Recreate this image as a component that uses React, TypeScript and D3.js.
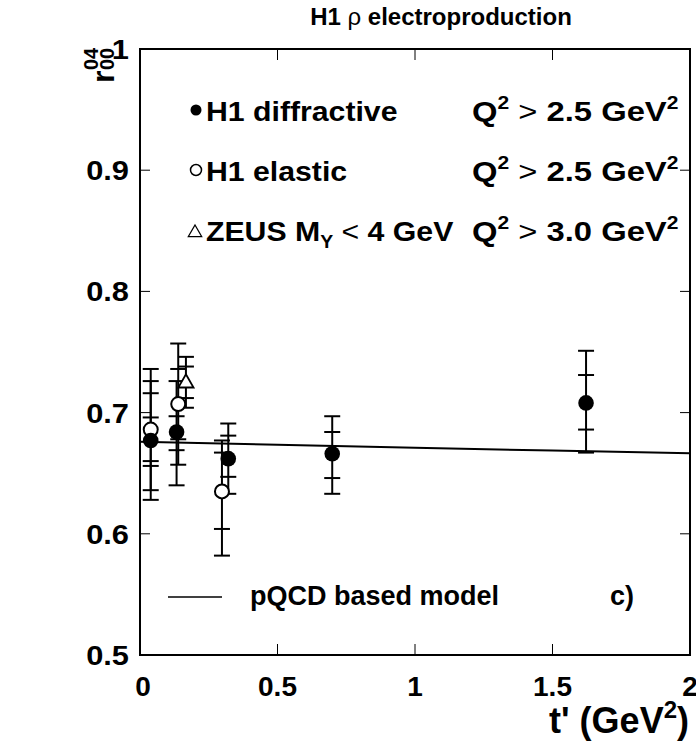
import React from "react";
import * as d3 from "d3";

// H1 diffractive (filled circles)
const diffT = [0.039, 0.133, 0.321, 0.699, 1.622];
const diffR = [0.677, 0.684, 0.662, 0.666, 0.708];
const diffStatLo = [0.660, 0.669, 0.647, 0.646, 0.686];
const diffStatHi = [0.696, 0.697, 0.681, 0.684, 0.731];
const diffTotLo = [0.628, 0.640, 0.633, 0.633, 0.667];
const diffTotHi = [0.726, 0.726, 0.691, 0.697, 0.751];

// H1 elastic (open circles)
const elT = [0.039, 0.139, 0.298];
const elR = [0.686, 0.707, 0.635];
const elStatLo = [0.656, 0.678, 0.604];
const elStatHi = [0.716, 0.736, 0.667];
const elTotLo = [0.636, 0.657, 0.582];
const elTotHi = [0.736, 0.757, 0.677];

// ZEUS (open triangle)
const zeusT = [0.167];
const zeusR = [0.725];
const zeusStatLo = [0.712];
const zeusStatHi = [0.738];
const zeusTotLo = [0.704];
const zeusTotHi = [0.746];

// pQCD based model
const modelT = [0, 0.5, 1, 1.5, 2];
const modelR = [0.676, 0.6735, 0.671, 0.6687, 0.6665];

const xTicks = [0, 0.5, 1, 1.5, 2];
const xTickLabels = ["0", "0.5", "1", "1.5", "2"];
const yTicks = [0.5, 0.6, 0.7, 0.8, 0.9, 1];
const yTickLabels = ["0.5", "0.6", "0.7", "0.8", "0.9", "1"];

const W = 696;
const H = 743;
const L = 140, R = 690, T = 49, B = 655;
const FONT = "'Liberation Sans', Arial, Helvetica, sans-serif";

export default function App() {
  const x = d3.scaleLinear().domain([0, 2]).range([L, R]);
  const y = d3.scaleLinear().domain([0.5, 1]).range([B, T]);
  const line = d3.line<number>().x((_, i) => x(modelT[i])).y((d) => y(d));

  const cap = 8;
  const errBars = (
    t: number[], lo1: number[], hi1: number[], lo2: number[], hi2: number[], key: string
  ) =>
    t.map((tv, i) => {
      const cx = x(tv);
      return (
        <g key={key + i} stroke="#000" strokeWidth={2}>
          <line x1={cx} x2={cx} y1={y(hi2[i])} y2={y(lo2[i])} />
          {[lo1[i], hi1[i], lo2[i], hi2[i]].map((v, j) => (
            <line key={j} x1={cx - cap} x2={cx + cap} y1={y(v)} y2={y(v)} />
          ))}
        </g>
      );
    });

  const tri = (cx: number, cy: number, s: number) =>
    `M${cx},${cy - s} L${cx + s * 0.95},${cy + s * 0.65} L${cx - s * 0.95},${cy + s * 0.65} Z`;

  const qText = (yy: number, val: string) => (
    <g transform={`translate(472,${yy}) scale(1.17,1)`}>
      <text x={0} y={0} fontSize={28} fontWeight="bold" fontFamily={FONT}>
        Q<tspan dy={-12} fontSize={18}>2</tspan>
        <tspan dy={12} fontWeight="normal"> {">"} </tspan>
        {val} GeV<tspan dy={-12} fontSize={18}>2</tspan>
      </text>
    </g>
  );

  const legText = (yy: number, content: React.ReactNode) => (
    <g transform={`translate(206,${yy}) scale(1.08,1)`}>
      <text x={0} y={0} fontSize={28} fontWeight="bold" fontFamily={FONT}>
        {content}
      </text>
    </g>
  );

  return (
    <div style={{ position: "absolute", left: 0, top: 0 }}>
      <svg width={W} height={H} style={{ display: "block", background: "#fff" }}>
        {/* title */}
        <text x={441} y={25} textAnchor="middle" fontSize={24} fontWeight="bold" fontFamily={FONT}>
          H1 <tspan fontWeight="normal">ρ</tspan> electroproduction
        </text>

        {/* frame */}
        <rect x={L} y={T} width={R - L} height={B - T} fill="none" stroke="#000" strokeWidth={2} />

        {/* ticks */}
        {xTicks.slice(1, -1).map((v) => (
          <g key={"xt" + v} stroke="#000" strokeWidth={1}>
            <line x1={x(v)} x2={x(v)} y1={B} y2={B - 11} />
            <line x1={x(v)} x2={x(v)} y1={T} y2={T + 11} />
          </g>
        ))}
        {yTicks.slice(1, -1).map((v) => (
          <g key={"yt" + v} stroke="#000" strokeWidth={1}>
            <line x1={L} x2={L + 10} y1={y(v)} y2={y(v)} />
            <line x1={R} x2={R - 10} y1={y(v)} y2={y(v)} />
          </g>
        ))}

        {/* tick labels */}
        {xTicks.map((v, i) => (
          <text key={"xl" + v} x={x(v) + (i === 0 ? 3 : 0)} y={696} textAnchor="middle" fontSize={28} fontWeight="bold" fontFamily={FONT}>
            {xTickLabels[i]}
          </text>
        ))}
        {yTicks.map((v, i) => (
          <g key={"yl" + v} transform={`translate(129,${y(v) + 10}) scale(1.1,1)`}>
            <text x={0} y={0} textAnchor="end" fontSize={28} fontWeight="bold" fontFamily={FONT}>
              {yTickLabels[i]}
            </text>
          </g>
        ))}

        {/* axis titles */}
        <text x={689} y={733} textAnchor="end" fontSize={36} fontWeight="bold" fontFamily={FONT}>
          t' (GeV<tspan dy={-15} fontSize={24}>2</tspan><tspan dy={15}>)</tspan>
        </text>
        <g transform="translate(114,83) rotate(-90)">
          <text x={0} y={0} fontSize={32} fontWeight="bold" fontFamily={FONT}>
            r
          </text>
          <text x={13} y={-16} fontSize={20} fontWeight="bold" fontFamily={FONT}>04</text>
          <text x={13} y={0} fontSize={20} fontWeight="bold" fontFamily={FONT}>00</text>
        </g>

        {/* model */}
        <path d={line(modelR) || ""} fill="none" stroke="#000" strokeWidth={2} />

        {/* error bars */}
        {errBars(diffT, diffStatLo, diffStatHi, diffTotLo, diffTotHi, "d")}
        {errBars(elT, elStatLo, elStatHi, elTotLo, elTotHi, "e")}
        {errBars(zeusT, zeusStatLo, zeusStatHi, zeusTotLo, zeusTotHi, "z")}

        {/* markers */}
        {elT.map((t, i) => (
          <circle key={"ec" + i} cx={x(t)} cy={y(elR[i])} r={7} fill="#fff" stroke="#000" strokeWidth={2} />
        ))}
        {diffT.map((t, i) => (
          <circle key={"dc" + i} cx={x(t)} cy={y(diffR[i])} r={7.8} fill="#000" />
        ))}
        {zeusT.map((t, i) => (
          <path key={"zt" + i} d={tri(x(t), y(zeusR[i]), 8)} fill="#fff" stroke="#000" strokeWidth={1.8} />
        ))}

        {/* legend */}
        <circle cx={196} cy={110} r={5.5} fill="#000" />
        {legText(121, "H1 diffractive")}
        {qText(121, "2.5")}

        <circle cx={196} cy={170} r={5.5} fill="none" stroke="#000" strokeWidth={1.5} />
        {legText(181, "H1 elastic")}
        {qText(181, "2.5")}

        <path d={tri(195, 232, 7)} fill="none" stroke="#000" strokeWidth={1.3} />
        {legText(241, <>
          ZEUS M<tspan dy={7} fontSize={18}>Y</tspan>
          <tspan dy={-7} fontWeight="normal"> {"<"} </tspan>4 GeV
        </>)}
        {qText(241, "3.0")}

        <line x1={168} x2={222} y1={597} y2={597} stroke="#000" strokeWidth={1.5} />
        <text x={250} y={605} fontSize={27} fontWeight="bold" fontFamily={FONT}>pQCD based model</text>
        <text x={610} y={605} fontSize={27} fontWeight="bold" fontFamily={FONT}>c)</text>
      </svg>
    </div>
  );
}
